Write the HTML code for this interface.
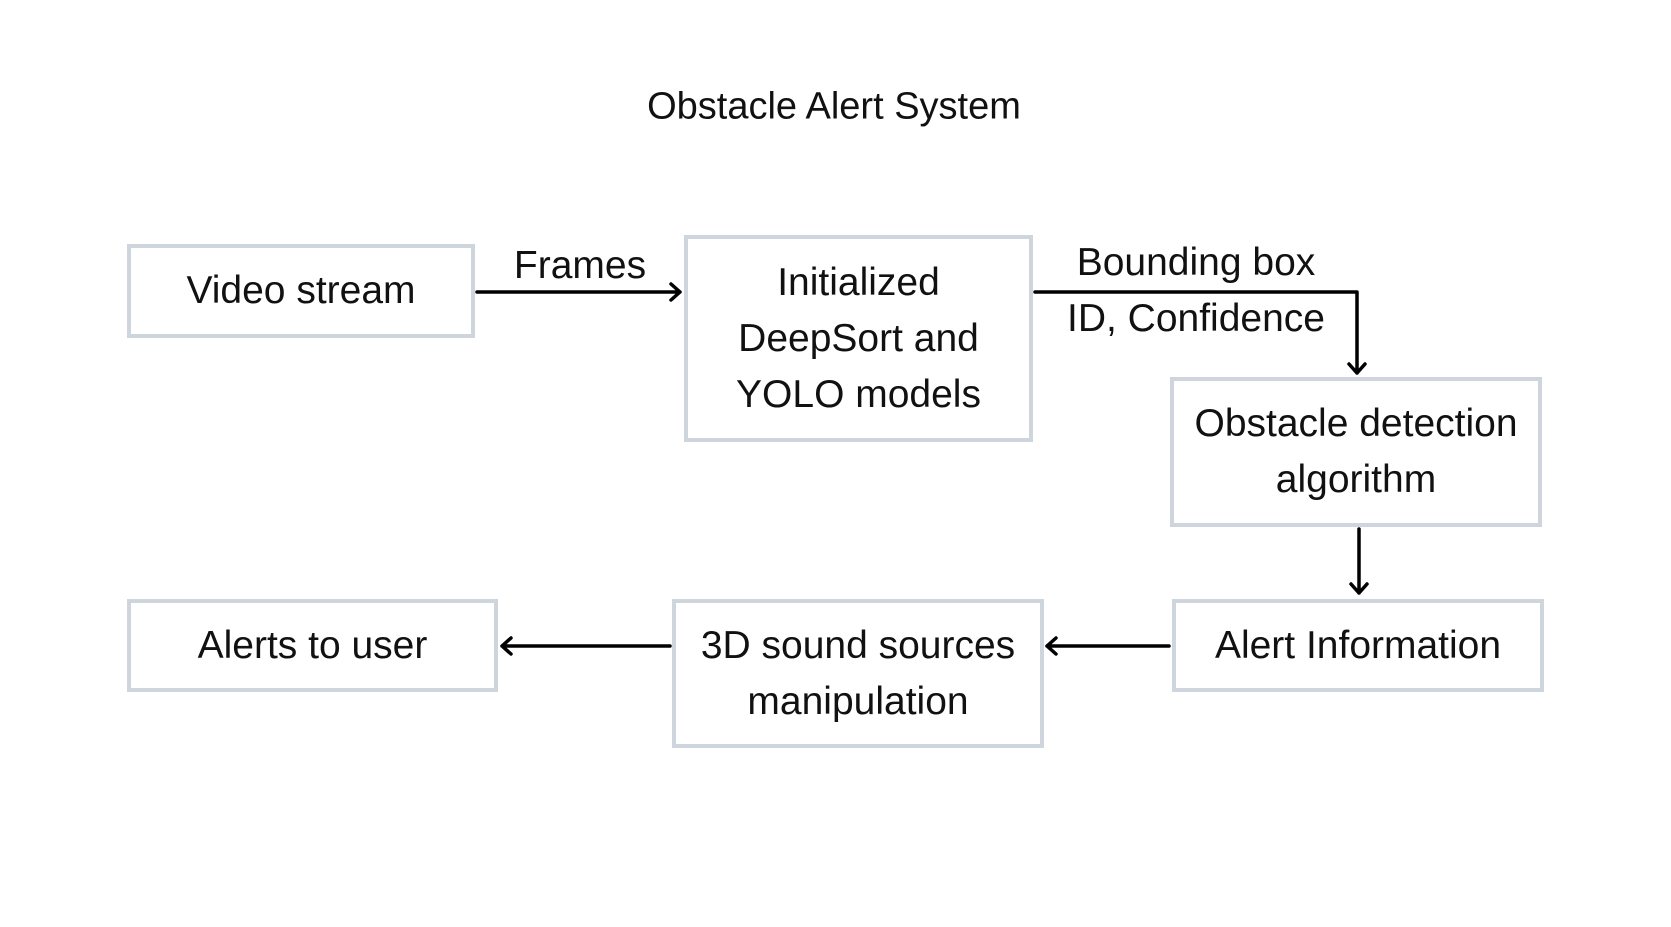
<!DOCTYPE html>
<html><head><meta charset="utf-8"><style>
html,body{margin:0;padding:0;background:#fff;}
body{width:1671px;height:927px;position:relative;overflow:hidden;font-family:"Liberation Sans","DejaVu Sans",sans-serif;color:#111;}
.box{position:absolute;box-sizing:border-box;border:4px solid #cfd5dd;background:#fff;display:flex;align-items:center;justify-content:center;text-align:center;font-size:39px;line-height:56px;}
.t{position:absolute;font-size:39px;transform:translate(-50%,-50%);white-space:nowrap;}
svg{position:absolute;left:0;top:0;}
</style></head><body>
<div class="t" style="left:834px;top:107px;font-size:38px;">Obstacle Alert System</div>
<div class="box" style="left:127px;top:244px;width:348px;height:94px;">Video stream</div>
<div class="box" style="left:684px;top:235px;width:349px;height:207px;">Initialized<br>DeepSort and<br>YOLO models</div>
<div class="box" style="left:1170px;top:377px;width:372px;height:150px;">Obstacle detection<br>algorithm</div>
<div class="box" style="left:1172px;top:599px;width:372px;height:93px;">Alert Information</div>
<div class="box" style="left:672px;top:599px;width:372px;height:149px;">3D sound sources<br>manipulation</div>
<div class="box" style="left:127px;top:599px;width:371px;height:93px;">Alerts to user</div>
<div class="t" style="left:580px;top:266px;">Frames</div>
<div class="t" style="left:1196px;top:263px;">Bounding box</div>
<div class="t" style="left:1196px;top:319px;">ID, Confidence</div>
<svg width="1671" height="927" fill="none" stroke="#000" stroke-width="3.5" stroke-linecap="round" stroke-linejoin="round">
<path d="M477 292H680M671 284l9 8-9 8"/>
<path d="M1035 292H1357V373M1349 364l8 9 8-9"/>
<path d="M1359 529V593M1351 584l8 9 8-9"/>
<path d="M1169 646H1047M1056 638l-9 8 9 8"/>
<path d="M670 646H502M511 638l-9 8 9 8"/>
</svg>
</body></html>
